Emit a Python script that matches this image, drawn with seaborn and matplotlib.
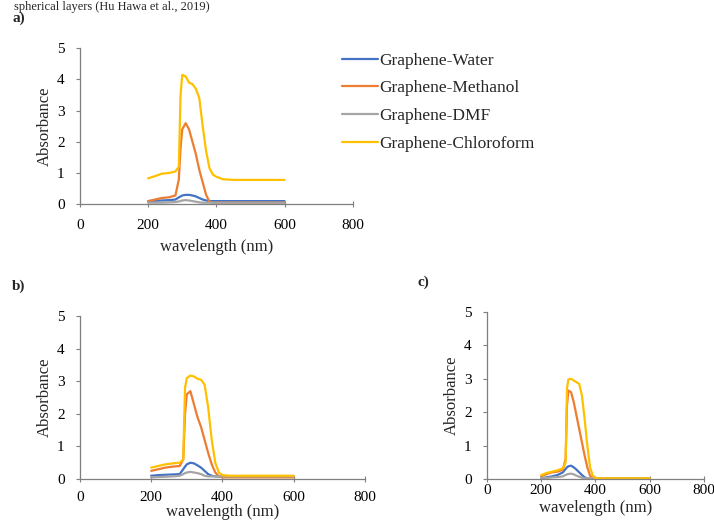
import numpy as np
import pandas as pd
import matplotlib
matplotlib.use("Agg")
import matplotlib.pyplot as plt
import seaborn as sns

# shared wavelength grid (nm)
wavelength = [200, 220, 240, 260, 280, 290, 295, 300, 310, 320, 330, 340,
              350, 360, 370, 380, 390, 400, 420, 450, 500, 550, 600]

samples = ["Graphene-Water", "Graphene-Methanol", "Graphene-DMF", "Graphene-Chloroform"]
colors = ["#4472C4", "#ED7D31", "#A5A5A5", "#FFC000"]

# panel a
water_a = [0.10, 0.11, 0.12, 0.13, 0.15, 0.22, 0.25, 0.28, 0.30, 0.30, 0.28, 0.25,
           0.20, 0.15, 0.12, 0.10, 0.10, 0.10, 0.10, 0.10, 0.10, 0.10, 0.10]
methanol_a = [0.10, 0.15, 0.20, 0.22, 0.28, 0.80, 1.80, 2.40, 2.60, 2.40, 2.00, 1.60,
              1.10, 0.70, 0.30, 0.08, 0.05, 0.05, 0.05, 0.05, 0.05, 0.05, 0.05]
dmf_a = [0.05, 0.05, 0.05, 0.06, 0.07, 0.09, 0.10, 0.12, 0.13, 0.12, 0.10, 0.08,
         0.06, 0.05, 0.05, 0.05, 0.05, 0.05, 0.05, 0.05, 0.05, 0.05, 0.05]
chloroform_a = [0.83, 0.90, 0.98, 1.00, 1.05, 1.20, 3.50, 4.15, 4.10, 3.90, 3.85, 3.70,
                3.40, 2.50, 1.70, 1.15, 0.95, 0.88, 0.80, 0.78, 0.78, 0.78, 0.78]

# panel b
water_b = [0.10, 0.12, 0.13, 0.14, 0.15, 0.30, 0.38, 0.45, 0.50, 0.48, 0.42, 0.35,
           0.25, 0.15, 0.10, 0.08, 0.08, 0.08, 0.08, 0.08, 0.08, 0.08, 0.08]
methanol_b = [0.25, 0.30, 0.35, 0.38, 0.40, 0.60, 2.00, 2.60, 2.70, 2.30, 1.90, 1.60,
              1.20, 0.80, 0.45, 0.20, 0.08, 0.05, 0.05, 0.05, 0.05, 0.05, 0.05]
dmf_b = [0.05, 0.06, 0.07, 0.08, 0.10, 0.15, 0.18, 0.20, 0.22, 0.20, 0.18, 0.15,
         0.10, 0.08, 0.08, 0.08, 0.08, 0.08, 0.08, 0.08, 0.08, 0.08, 0.08]
chloroform_b = [0.35, 0.40, 0.45, 0.48, 0.50, 0.60, 2.80, 3.10, 3.18, 3.15, 3.08, 3.05,
                2.90, 2.20, 1.20, 0.50, 0.20, 0.12, 0.10, 0.10, 0.10, 0.10, 0.10]

# panel c
water_c = [0.02, 0.05, 0.08, 0.12, 0.20, 0.30, 0.35, 0.38, 0.40, 0.35, 0.28, 0.20,
           0.12, 0.05, 0.02, 0.01, 0.01, 0.01, 0.01, 0.01, 0.01, 0.01, 0.01]
methanol_c = [0.08, 0.15, 0.20, 0.22, 0.28, 0.60, 2.20, 2.65, 2.60, 2.30, 1.90, 1.50,
              1.10, 0.70, 0.35, 0.10, 0.03, 0.02, 0.02, 0.02, 0.02, 0.02, 0.02]
dmf_c = [0.02, 0.03, 0.05, 0.06, 0.08, 0.12, 0.14, 0.15, 0.16, 0.14, 0.10, 0.07,
         0.04, 0.02, 0.02, 0.02, 0.02, 0.02, 0.02, 0.02, 0.02, 0.02, 0.02]
chloroform_c = [0.12, 0.18, 0.22, 0.26, 0.32, 0.50, 2.70, 2.98, 3.00, 2.95, 2.90, 2.85,
                2.50, 1.80, 1.00, 0.35, 0.10, 0.03, 0.02, 0.02, 0.02, 0.02, 0.02]

panels = {
    "a)": [water_a, methanol_a, dmf_a, chloroform_a],
    "b)": [water_b, methanol_b, dmf_b, chloroform_b],
    "c)": [water_c, methanol_c, dmf_c, chloroform_c],
}

x_ticks = [0, 200, 400, 600, 800]
y_ticks = [0, 1, 2, 3, 4, 5]


def to_long(series_list):
    rows = []
    for name, vals in zip(samples, series_list):
        for w, v in zip(wavelength, vals):
            rows.append({"wavelength": w, "absorbance": v, "sample": name})
    return pd.DataFrame(rows)


sns.set_style("ticks")
plt.rcParams["font.family"] = ["Liberation Serif", "DejaVu Serif"]
plt.rcParams["axes.edgecolor"] = "#7f7f7f"
plt.rcParams["xtick.color"] = "#7f7f7f"
plt.rcParams["ytick.color"] = "#7f7f7f"
plt.rcParams["xtick.labelcolor"] = "black"
plt.rcParams["ytick.labelcolor"] = "black"

fig = plt.figure(figsize=(7.14, 5.25), dpi=100)

# axes rectangles in figure fractions
positions = {
    "a)": [0.112, 0.611, 0.382, 0.297],
    "b)": [0.112, 0.0876, 0.399, 0.310],
    "c)": [0.682, 0.0876, 0.304, 0.318],
}
label_pos = {"a)": (0.017, 0.965), "b)": (0.017, 0.455), "c)": (0.585, 0.462)}
# (x tick pad, x label pad) per panel
x_pads = {"a)": (8, 5), "b)": (6, 0), "c)": (1, 2)}

axes = {}
for key, series_list in panels.items():
    ax = fig.add_axes(positions[key])
    df = to_long(series_list)
    sns.lineplot(data=df, x="wavelength", y="absorbance", hue="sample",
                 hue_order=samples, palette=colors, linewidth=1.6,
                 legend=False, ax=ax)
    ax.set_xlim(0, 800)
    ax.set_ylim(0, 5)
    ax.set_xticks(x_ticks)
    ax.set_yticks(y_ticks)
    ax.set_xlabel("wavelength (nm)", fontsize=12, labelpad=x_pads[key][1])
    ax.set_ylabel("Absorbance", fontsize=12, labelpad=3)
    ax.tick_params(axis="x", direction="inout", length=5, width=0.8, labelsize=11,
                   pad=x_pads[key][0])
    ax.tick_params(axis="y", direction="out", length=3, width=0.8, labelsize=11, pad=8)
    sns.despine(ax=ax)
    ax.spines["left"].set_linewidth(0.9)
    ax.spines["bottom"].set_linewidth(0.9)
    ax.patch.set_alpha(0)
    fig.text(label_pos[key][0], label_pos[key][1], key, fontsize=11,
             fontweight="bold", ha="left", va="center")
    axes[key] = ax

fig.legend(handles=axes["a)"].lines[:4], labels=samples, loc="upper left",
           bbox_to_anchor=(0.457, 0.9295), frameon=False, fontsize=12.5,
           handlelength=2.1, handletextpad=0.05, labelspacing=0.66)

# caption line at the very top of the page crop
fig.text(0.02, 0.999, "spherical layers (Hu Hawa et al., 2019)", fontsize=9,
         ha="left", va="top")

fig.savefig("out.png", dpi=100)
